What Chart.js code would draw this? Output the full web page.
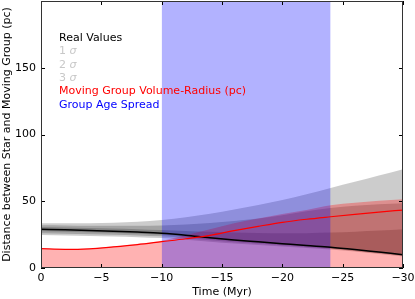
<!DOCTYPE html>
<html>
<head>
<meta charset="utf-8">
<script src="https://cdn.jsdelivr.net/npm/chart.js@4/dist/chart.umd.min.js"></script>
<style>
html,body{margin:0;padding:0;background:#fff;}
#wrap{width:415px;height:299px;position:relative;}
</style>
</head>
<body>
<div id="wrap"><canvas id="c" width="415" height="299"></canvas></div>
<script>
// Time (Myr)
const times = [0,-2,-4,-6,-8,-10,-12,-14,-16,-18,-20,-22,-24,-26,-28,-30];
// Real values (distance between star and moving group, pc)
const realValues = [29.0,28.6,28.1,27.6,26.9,26.0,24.5,22.6,21.0,19.6,18.2,16.8,15.5,13.8,11.9,10.0];
// sigma bands
const sigma1Upper = [30.7,30.3,29.9,29.5,29.0,28.4,27.7,27.1,26.6,26.2,26.0,26.1,26.6,27.2,28.0,29.0];
const sigma1Lower = [27.5,27.1,26.7,26.3,25.7,24.9,23.5,21.7,20.2,18.9,17.6,16.3,15.0,13.4,11.5,9.6];
const sigma2Upper = [32.0,31.9,31.7,31.6,31.6,31.9,32.6,33.7,35.2,37.0,39.5,42.5,45.0,46.6,47.7,48.5];
const sigma2Lower = [26.0,25.7,25.3,24.9,24.4,23.7,22.4,20.7,19.3,18.1,16.9,15.6,14.4,12.8,11.0,9.2];
const sigma3Upper = [33.5,33.5,33.6,33.9,34.7,36.0,38.0,40.6,43.8,47.2,51.0,55.3,60.0,64.6,69.3,74.0];
const sigma3Lower = [24.7,24.4,24.0,23.6,23.1,22.4,21.2,19.6,18.3,17.2,16.1,14.9,13.8,12.3,10.5,8.7];
// Moving group volume-radius (pc) and its filled extent
const groupRadius = [14.5,14.0,14.4,15.8,17.5,19.7,21.9,24.5,28.0,31.2,34.2,36.5,38.4,40.2,41.9,43.4];
const groupRadiusFill = [14.5,14.1,14.6,16.2,18.2,20.5,24.5,29.0,33.5,37.0,40.5,43.5,47.0,48.8,50.3,51.5];
// Group age spread (Myr)
const ageSpread = [-10,-24];
const yTop = 200;

const pts = arr => times.map((t,i)=>({x:t,y:arr[i]}));

const base = {pointRadius:0, borderWidth:0, tension:0.3, cubicInterpolationMode:'monotone'};

const frameTicks = {
  id:'frameTicks',
  afterDraw(chart){
    const {ctx, chartArea:a, scales} = chart;
    ctx.save();
    ctx.strokeStyle = '#000';
    ctx.lineWidth = 1;
    const L = 4;
    ctx.beginPath();
    scales.x.ticks.forEach(t=>{
      const px = Math.round(scales.x.getPixelForValue(t.value))+0.5;
      ctx.moveTo(px,a.bottom); ctx.lineTo(px,a.bottom-L);
      ctx.moveTo(px,a.top); ctx.lineTo(px,a.top+L);
    });
    scales.y.ticks.forEach(t=>{
      const py = Math.round(scales.y.getPixelForValue(t.value))+0.5;
      ctx.moveTo(a.left,py); ctx.lineTo(a.left+L,py);
      ctx.moveTo(a.right,py); ctx.lineTo(a.right-L,py);
    });
    ctx.stroke();
    ctx.strokeStyle = '#333';
    ctx.strokeRect(Math.round(a.left)+0.5, Math.round(a.top)+0.5, Math.round(a.right-a.left)-1, Math.round(a.bottom-a.top)-1);
    // legend (text only)
    const x0 = a.left + 18;
    let y = 38;
    const step = 13.4;
    ctx.textBaseline = 'middle';
    ctx.textAlign = 'left';
    ctx.font = '11px "DejaVu Sans"';
    ctx.fillStyle = '#000';
    ctx.fillText('Real Values', x0, y); y += step;
    ['1','2','3'].forEach(n=>{
      ctx.font = '11px "DejaVu Sans"';
      ctx.fillStyle = '#c8c8c8';
      ctx.fillText(n+' ', x0, y);
      const w = ctx.measureText(n+' ').width;
      ctx.font = 'italic 11px "DejaVu Sans"';
      ctx.fillText('σ', x0+w, y);
      y += step;
    });
    ctx.font = '11px "DejaVu Sans"';
    ctx.fillStyle = '#ff0000';
    ctx.fillText('Moving Group Volume-Radius (pc)', x0, y); y += step;
    ctx.fillStyle = '#0000ff';
    ctx.fillText('Group Age Spread', x0, y);
    ctx.restore();
  }
};

new Chart(document.getElementById('c'), {
  type:'line',
  data:{datasets:[
    {...base, data:pts(groupRadius), borderColor:'#ff0000', borderWidth:1.2, fill:false},
    {...base, data:pts(realValues), borderColor:'#000000', borderWidth:1.5, fill:false},
    {...base, tension:0, data:ageSpread.map(t=>({x:t,y:yTop})), backgroundColor:'rgba(0,0,255,0.3)', fill:'origin'},
    {...base, data:pts(groupRadiusFill), backgroundColor:'rgba(255,0,0,0.3)', fill:'origin'},
    {...base, data:pts(sigma1Upper), backgroundColor:'rgba(0,0,0,0.2)', fill:'+1'},
    {...base, data:pts(sigma1Lower), fill:false},
    {...base, data:pts(sigma2Upper), backgroundColor:'rgba(0,0,0,0.2)', fill:'+1'},
    {...base, data:pts(sigma2Lower), fill:false},
    {...base, data:pts(sigma3Upper), backgroundColor:'rgba(0,0,0,0.2)', fill:'+1'},
    {...base, data:pts(sigma3Lower), fill:false}
  ]},
  options:{
    responsive:false, animation:false, devicePixelRatio:1,
    layout:{padding:{top:1,right:12,left:0,bottom:0}},
    plugins:{legend:{display:false}, tooltip:{enabled:false}},
    elements:{line:{borderJoinStyle:'round'}},
    scales:{
      x:{type:'linear', min:-30, max:0, reverse:true,
        grid:{display:false, drawTicks:false}, border:{display:false},
        ticks:{stepSize:5, padding:4, color:'#000', font:{family:'DejaVu Sans', size:11},
          callback:v=> v===0 ? '0' : '\u2212'+Math.abs(v)},
        title:{display:true, text:'Time (Myr)', color:'#000', font:{family:'DejaVu Sans', size:11}, padding:{top:0,bottom:0}},
        afterFit:s=>{s.height=31; s.paddingLeft=0; s.paddingRight=0;}
      },
      y:{min:0, max:yTop,
        grid:{display:false, drawTicks:false}, border:{display:false},
        ticks:{stepSize:50, padding:5, color:'#000', font:{family:'DejaVu Sans', size:11},
          callback:v=> v>=yTop ? null : String(v)},
        title:{display:true, text:'Distance between Star and Moving Group (pc)', color:'#000', font:{family:'DejaVu Sans', size:11}, padding:{top:1,bottom:0}},
        afterFit:s=>{s.width=41; s.paddingTop=0; s.paddingBottom=0;}
      }
    }
  },
  plugins:[frameTicks]
});
</script>
</body>
</html>
